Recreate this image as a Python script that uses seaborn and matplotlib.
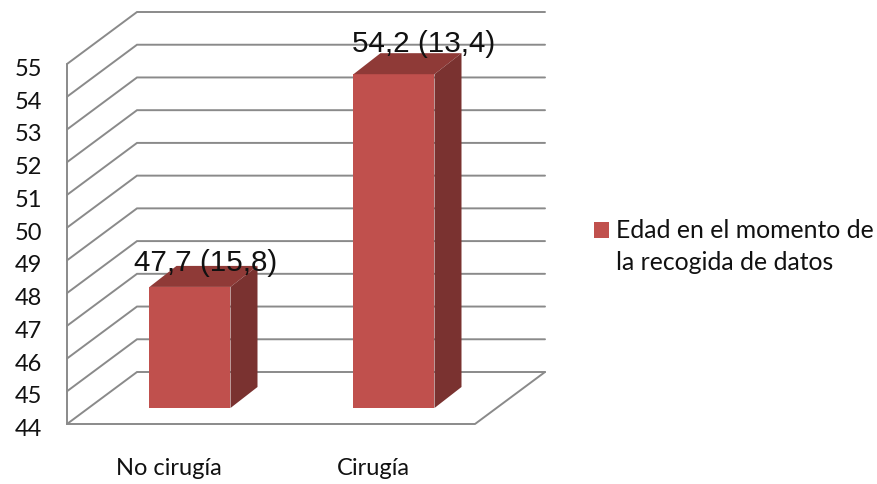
import matplotlib
matplotlib.use("Agg")
import matplotlib.pyplot as plt
from matplotlib.patches import Polygon
from matplotlib.transforms import ScaledTranslation
import pandas as pd
import seaborn as sns

categories = ["No cirugía", "Cirugía"]
values = [47.7, 54.2]
value_labels = ["47,7 (15,8)", "54,2 (13,4)"]
series_name = "Edad en el momento de\nla recogida de datos"
y_ticks = list(range(44, 56))

W, H = 878, 485
FRONT = "#C0504D"
TOP = "#8F3A37"
SIDE = "#7A3230"
GRID = "#8A8A8A"

sns.set_theme(style="white")
plt.rcParams["font.family"] = ["Lato", "DejaVu Sans"]

fig = plt.figure(figsize=(W / 100, H / 100), dpi=100)


def axes_from_pixels(left, bottom, right, top):
    return fig.add_axes([left / W, 1 - bottom / H, (right - left) / W, (bottom - top) / H])


# Front plane of the box carries the axis labels and the wall lines
ax_wall = axes_from_pixels(67, 425, 475, 65)
# Bars stand on a plane set back into the box
ax_bar = axes_from_pixels(88, 409, 496, 49)

for ax in (ax_wall, ax_bar):
    ax.set_xlim(-0.5, 1.5)
    ax.set_ylim(44, 55)
    for spine in ax.spines.values():
        spine.set_visible(False)
ax_bar.patch.set_alpha(0)

# Box depth and bar depth in data units
px_x = 2 / 408
px_y = 11 / 360
box_dx, box_dy = 70 * px_x, 52 * px_y
bar_dx, bar_dy = 27 * px_x, 21 * px_y

for v in y_ticks:
    ax_wall.plot([-0.5, -0.5 + box_dx, 1.5 + box_dx], [v, v + box_dy, v + box_dy],
                 color=GRID, lw=1.4, clip_on=False, solid_joinstyle="miter")
ax_wall.plot([-0.5, -0.5], [44, 55], color=GRID, lw=1.4, clip_on=False)
ax_wall.plot([-0.5, 1.5, 1.5 + box_dx], [44, 44, 44 + box_dy], color=GRID, lw=1.4, clip_on=False)

ax_wall.set_xticks(range(len(categories)), categories, fontsize=17, color="#111111")
ax_wall.set_yticks(y_ticks, [str(v) for v in y_ticks], fontsize=17, color="#111111")
ax_wall.tick_params(axis="x", length=0, pad=23.5)
ax_wall.tick_params(axis="y", length=0, pad=18)
label_shift = ScaledTranslation(0, -4.5 / 100, fig.dpi_scale_trans)
for lab in ax_wall.get_yticklabels():
    lab.set_verticalalignment("center")
    lab.set_transform(lab.get_transform() + label_shift)

df = pd.DataFrame({"grupo": categories, "edad": values, "serie": series_name})
bar_width = 81 / 204
sns.barplot(data=df, x="grupo", y="edad", hue="serie", palette=[FRONT], width=bar_width,
            dodge=False, legend=False, ax=ax_bar, saturation=1, linewidth=0, edgecolor="none")
ax_bar.set_xlim(-0.5, 1.5)
ax_bar.set_ylim(44, 55)
ax_bar.set(xlabel="", ylabel="", xticks=[], yticks=[])

# Top and side faces of each bar
half = bar_width / 2
for i, v in enumerate(values):
    top = [(i - half, v), (i + half, v), (i + half + bar_dx, v + bar_dy), (i - half + bar_dx, v + bar_dy)]
    side = [(i + half, 44), (i + half + bar_dx, 44 + bar_dy), (i + half + bar_dx, v + bar_dy), (i + half, v)]
    ax_bar.add_patch(Polygon(top, closed=True, fc=TOP, ec="none", clip_on=False))
    ax_bar.add_patch(Polygon(side, closed=True, fc=SIDE, ec="none", clip_on=False))

# Value labels sit above the bars, each nudged by hand
label_nudge = [(16, 25), (30, 31)]
for i, (v, text, (nx, ny)) in enumerate(zip(values, value_labels, label_nudge)):
    ax_bar.annotate(text, xy=(i, v), xytext=(nx * 0.72, ny * 0.72), textcoords="offset points",
                    ha="center", va="center", fontsize=21.3, family="Liberation Sans",
                    color="#111111", annotation_clip=False)

handles = [plt.Rectangle((0, 0), 1, 1, fc=FRONT, ec="none")]
leg = fig.legend(handles, [series_name], loc="upper left", bbox_to_anchor=(594 / W, 1 - 219 / H),
                 frameon=False, fontsize=17.8, handlelength=0.6, handleheight=0.6,
                 handletextpad=0.28, borderpad=0, borderaxespad=0, labelcolor="#111111")
leg.get_texts()[0].set_linespacing(1.5)
# Raise the swatch so it lines up with the first line of the label
swatch = leg.legend_handles[0]
swatch.set_y(swatch.get_y() + 12)

fig.savefig("out.png", dpi=100)
